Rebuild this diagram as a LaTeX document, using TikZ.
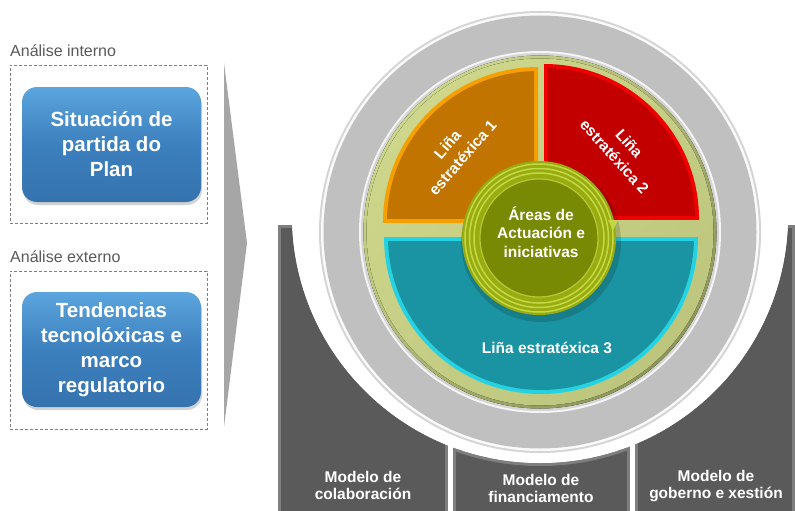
\documentclass[tikz,border=0pt]{standalone}
\usepackage{fontspec}
\setmainfont{Liberation Sans}
\usetikzlibrary{shadows}
\definecolor{labelgray}{HTML}{595959}
\definecolor{dashgray}{HTML}{7F7F7F}
\definecolor{bluetop}{HTML}{5CA5DE}
\definecolor{bluemid}{HTML}{3C80BE}
\definecolor{bluebot}{HTML}{3573AE}
\definecolor{chevgray}{HTML}{A6A6A6}
\definecolor{pillarrim}{HTML}{7E7E7E}
\definecolor{pillarface}{HTML}{5A5A5A}
\definecolor{ringgray}{HTML}{C0C0C0}
\definecolor{ringedge}{HTML}{D4D4D4}
\definecolor{greenlight}{HTML}{CDD68A}
\definecolor{greendark}{HTML}{8E955A}
\definecolor{orangerim}{HTML}{F5A000}
\definecolor{orangeface}{HTML}{C17400}
\definecolor{redrim}{HTML}{F00000}
\definecolor{redface}{HTML}{C30000}
\definecolor{cyanrim}{HTML}{25D2E2}
\definecolor{cyanface}{HTML}{1A94A2}
\definecolor{cgreenouter}{HTML}{98AC10}
\definecolor{cgreenring}{HTML}{C4D846}
\definecolor{cgreeninner}{HTML}{788903}
\begin{document}
\begin{tikzpicture}[x=1pt,y=-1pt,
  sectionlabel/.style={anchor=base west,inner sep=0pt,text=labelgray,font=\fontsize{16}{19}\selectfont},
  dashbox/.style={draw=dashgray,dash pattern=on 3pt off 2pt,line width=0.8pt,inner sep=0pt},
  bluebox/.style={rounded corners=15pt,top color=bluetop,bottom color=bluebot,middle color=bluemid,
     text=white,align=center,inner sep=0pt,font=\bfseries\fontsize{20.5}{25}\selectfont,
     minimum width=179pt,minimum height=115pt,
     drop shadow={opacity=0.35,shadow xshift=1pt,shadow yshift=-3pt}},
  pillartext/.style={text=white,align=center,font=\bfseries\fontsize{15.5}{17}\selectfont},
  qtext/.style={text=white,align=center,font=\bfseries\fontsize{15.5}{20}\selectfont},
  ctext/.style={text=white,align=center,font=\bfseries\fontsize{15.5}{18.5}\selectfont}]
\useasboundingbox (0,0) rectangle (795,511);
\clip (0,0) rectangle (795,511);
\fill[white] (0,0) rectangle (795,511);

% left: internal / external analysis
\node[sectionlabel] (labint) at (10,57) {Análise interno};
\node[dashbox,minimum width=197pt,minimum height=158pt] (boxint) at (108.5,144) {};
\node[bluebox] (sit) at (111.5,144.5) {Situación de\\partida do\\Plan};

\node[sectionlabel] (labext) at (10,262) {Análise externo};
\node[dashbox,minimum width=197pt,minimum height=158pt] (boxext) at (108.5,350) {};
\node[bluebox] (tend) at (111.5,349.5) {Tendencias\\tecnolóxicas e\\marco\\regulatorio};

% chevron
\fill[chevgray] (224,63) -- (247,243) -- (224,427) -- cycle;

% pillars
\fill[pillarrim] (278,225) rectangle (448,520);
\fill[pillarface] (281,228) rectangle (445,520);
\fill[pillarrim] (453,225) rectangle (630,520);
\fill[pillarface] (456,228) rectangle (627,520);
\fill[pillarrim] (635,225) rectangle (800,520);
\fill[pillarface] (638,228) rectangle (792,520);

% white cut-out
\fill[white] (540,215) circle (248pt);
\begin{scope}
\clip (456,300) rectangle (627,520);
\draw[pillarrim,line width=3pt] (540,215) circle (249.5pt);
\end{scope}
\fill[white] (540,215) circle (248pt);

% grey ring
\fill[ringedge] (540,232) circle (221pt);
\fill[white!96!gray] (540,232) circle (219pt);
\fill[ringgray] (540,232) circle (216.5pt);
\fill[white!92!gray] (540,232) circle (181pt);
\fill[ringedge] (540,232) circle (179pt);

% green disc
\fill[shading=axis,top color=greenlight,bottom color=greendark,shading angle=45] (540,232) circle (176.5pt);
\fill[shading=axis,top color=greenlight,bottom color=greenlight!75!greendark,shading angle=45] (540,232) circle (173.5pt);

% orange quadrant
\begin{scope}
\clip (370,55) rectangle (538,222);
\fill[orangerim] (538,222) circle (155pt);
\end{scope}
\begin{scope}
\clip (370,55) rectangle (534,218);
\fill[orangeface] (538,222) circle (151pt);
\end{scope}

% red quadrant
\begin{scope}
\clip (544,55) rectangle (712,219);
\fill[redrim] (544,219) circle (155pt);
\end{scope}
\begin{scope}
\clip (548,55) rectangle (712,215);
\fill[redface] (544,219) circle (151pt);
\end{scope}

% cyan half
\begin{scope}
\clip (370,237) rectangle (712,410);
\fill[cyanrim] (541,237) circle (157pt);
\end{scope}
\begin{scope}
\clip (370,241) rectangle (712,410);
\fill[cyanface] (541,237) circle (153pt);
\end{scope}

% centre disc
\fill[black,opacity=0.15] (541,242) circle (80pt);
\fill[cgreenouter] (539,238) circle (77pt);
\foreach \r in {74,69.5,65}{\draw[cgreenring,line width=1.5pt] (539,238) circle (\r pt);}
\fill[cgreeninner] (539,238) circle (59pt);
\draw[cgreenring!80!cgreeninner,line width=1.2pt] (539,238) circle (59pt);
\fill[cgreenring] (608,220) -- (618,220) -- (613,230) -- cycle;

% texts in the wheel
\node[qtext,rotate=49] (l1) at (455,151) {Liña\\estratéxica 1};
\node[qtext,rotate=-48] (l2) at (622,150) {Liña\\estratéxica 2};
\node[qtext,anchor=base] (l3) at (547,353) {Liña estratéxica 3};
\node[ctext] (areas) at (541,232) {Áreas de\\Actuación e\\iniciativas};

% pillar texts
\node[pillartext] (colab) at (363,485) {Modelo de\\colaboración};
\node[pillartext] (finan) at (541,488) {Modelo de\\financiamento};
\node[pillartext] (gober) at (716,486) {Modelo de\\goberno e xestión};
\end{tikzpicture}
\end{document}
